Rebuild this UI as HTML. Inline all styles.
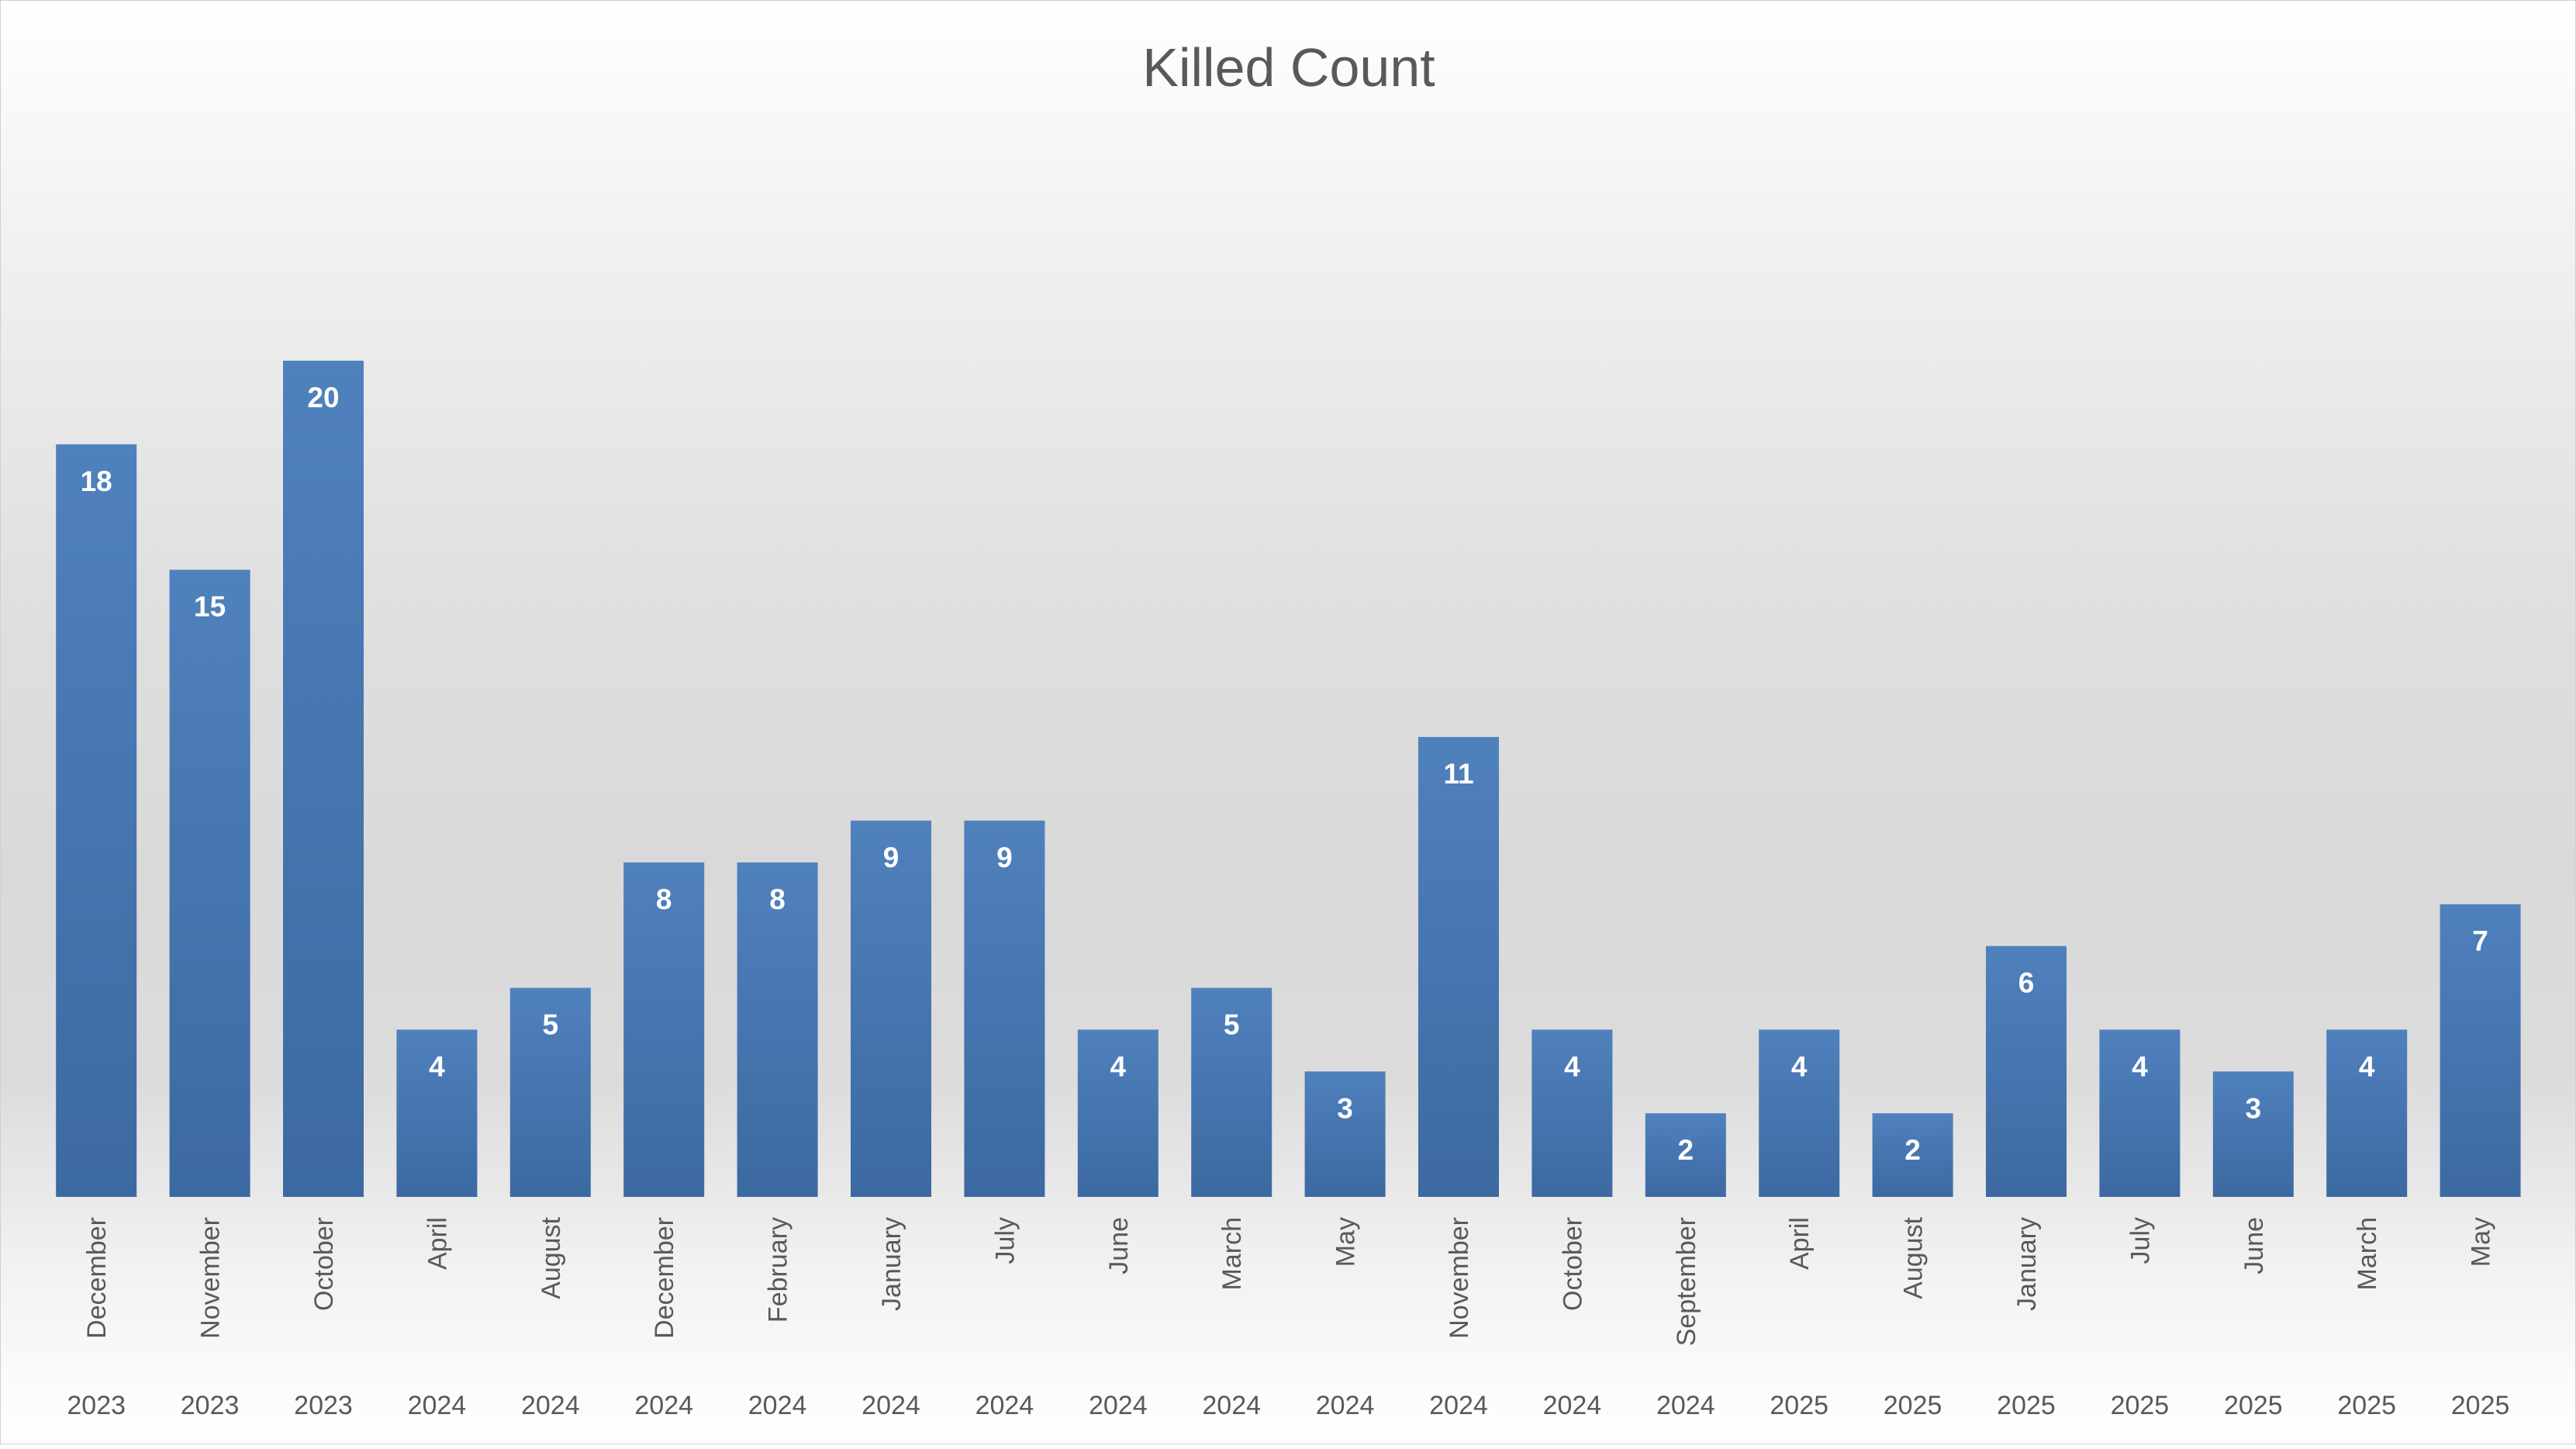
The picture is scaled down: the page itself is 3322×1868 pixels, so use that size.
<!DOCTYPE html>
<html><head><meta charset="utf-8"><style>
html,body{margin:0;padding:0}
body{width:3322px;height:1862px;overflow:hidden;font-family:"Liberation Sans",sans-serif}
#chart{position:absolute;left:0;top:0;width:3320px;height:1860px;border:1px solid #d0d0d0;
background:linear-gradient(to bottom,#ffffff 0%,#f2f2f2 15%,#e0e0e0 40%,#d9d9d9 60%,#dcdcdc 75%,#f2f2f2 88%,#ffffff 100%)}
</style></head><body>
<div id="chart">
<svg id="svg" width="3322" height="1862">
<defs><linearGradient id="bg" x1="0" y1="0" x2="0" y2="1"><stop offset="0" stop-color="#4f81bd"/><stop offset="1" stop-color="#3c69a1"/></linearGradient></defs>
<text x="1661" y="110" text-anchor="middle" font-size="70" fill="#595959" font-family="Liberation Sans, sans-serif">Killed Count</text>
<g id="bars"></g>
</svg>
</div>
<script>
const months=["December","November","October","April","August","December","February","January","July","June","March","May","November","October","September","April","August","January","July","June","March","May"];
const years=["2023","2023","2023","2024","2024","2024","2024","2024","2024","2024","2024","2024","2024","2024","2024","2025","2025","2025","2025","2025","2025","2025"];
const values=[18,15,20,4,5,8,8,9,9,4,5,3,11,4,2,4,2,6,4,3,4,7];
const NS="http://www.w3.org/2000/svg";
const plotLeft=50,pitch=146.4,barW=104,baseY=1542,unit=53.9;
function xCenter(i){return plotLeft+pitch*(i+0.5);}
function yVal(v){return baseY-v*unit;}
const g=document.getElementById('bars');
function mk(tag,attrs){const e=document.createElementNS(NS,tag);for(const k in attrs)e.setAttribute(k,attrs[k]);return e;}
values.forEach((v,i)=>{
  const cx=xCenter(i);
  const r=mk('rect',{x:cx-barW/2,y:yVal(v),width:barW,height:baseY-yVal(v),fill:'url(#bg)'});
  
  
  g.appendChild(r);
  const t=mk('text',{x:cx,y:yVal(v)+60,'text-anchor':'middle','font-size':'37','font-weight':'bold',fill:'#ffffff'});
  t.textContent=v;
  
  
  g.appendChild(t);
  const m=mk('text',{x:0,y:0,'text-anchor':'end','font-size':'34',fill:'#595959',transform:'translate('+(cx+12)+',1568) rotate(-90)'});
  m.textContent=months[i];
  
  
  g.appendChild(m);
  const y=mk('text',{x:cx,y:1822,'text-anchor':'middle','font-size':'34',fill:'#595959'});
  y.textContent=years[i];
  
  
  g.appendChild(y);
});
</script>
</body></html>
